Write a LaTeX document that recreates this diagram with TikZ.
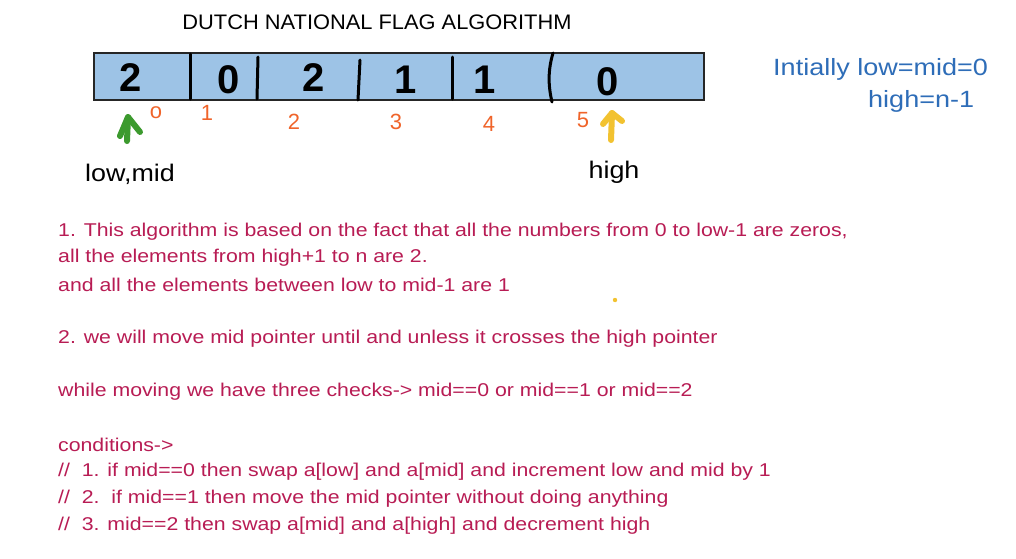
\documentclass[tikz,border=0pt]{standalone}
\usepackage{fontspec}
\setmainfont{Liberation Sans}
\newfontfamily\bodyfont[FakeStretch=1.15]{Liberation Sans}
\newfontfamily\notefont[FakeStretch=1.15]{Liberation Sans}
\newfontfamily\labelfont[FakeStretch=1.12]{Liberation Sans}
\newfontfamily\titlefont[FakeStretch=1.04]{Liberation Sans}
\usetikzlibrary{arrows.meta}
\definecolor{cellblue}{HTML}{9DC3E6}
\definecolor{idxorange}{HTML}{F0642A}
\definecolor{noteblue}{HTML}{2E6DB8}
\definecolor{bodyred}{HTML}{B81C54}
\definecolor{ptrgreen}{HTML}{3C9A2E}
\definecolor{ptryellow}{HTML}{F2C230}
\tikzset{
  digit/.style={font=\fontsize{40}{40}\selectfont\bfseries, inner sep=0pt},
  idx/.style={font=\fontsize{22}{22}\selectfont, text=idxorange, inner sep=0pt},
  ptrlabel/.style={font=\labelfont\fontsize{24}{24}\selectfont, inner sep=0pt},
  note/.style={font=\notefont\fontsize{23.5}{23.5}\selectfont, text=noteblue, inner sep=0pt, anchor=west},
  body/.style={font=\bodyfont\fontsize{18.5}{18.5}\selectfont, text=bodyred, inner sep=0pt, anchor=west},
  divider/.style={line width=3pt, black, line cap=round},
  ptr/.style={line width=6pt, line cap=round, line join=round},
}
\begin{document}
\begin{tikzpicture}[x=1pt,y=-1pt]
\useasboundingbox (0,0) rectangle (1016,558);
\fill[white] (0,0) rectangle (1016,558);

\node[font=\titlefont\fontsize{21}{21}\selectfont, inner sep=0pt] (title) at (377,22) {DUTCH NATIONAL FLAG ALGORITHM};

\node[draw=black!85, line width=2.5pt, fill=cellblue, minimum width=610pt, minimum height=47pt, inner sep=0pt] (arr) at (399,76.5) {};
\draw[divider] (190,54) -- (190,99);
\draw[divider] (258,57) -- (257,99);
\draw[divider] (360,60) -- (358,100);
\draw[divider] (452,57) -- (452,99);
\draw[divider] (553,53) .. controls (548,70) and (548,85) .. (552,102);

\node[digit] (d0) at (131,78) {2};
\node[digit] (d1) at (229,80) {0};
\node[digit] (d2) at (314,78) {2};
\node[digit] (d3) at (406,80) {1};
\node[digit] (d4) at (485,80) {1};
\node[digit] (d5) at (608,82) {0};

\node[idx] (i0) at (156,113) {o};
\node[idx] (i1) at (207,113) {1};
\node[idx] (i2) at (294,122) {2};
\node[idx] (i3) at (396,122) {3};
\node[idx] (i4) at (489,124) {4};
\node[idx] (i5) at (583,120) {5};

% low/mid pointer (green)
\coordinate (lowtail) at (127,141);
\coordinate (lowhead) at (128,117);
\coordinate (lowarmL) at (120,136);
\coordinate (lowarmR) at (140,132);
\draw[ptr, ptrgreen] (lowtail) -- (lowhead);
\draw[ptr, ptrgreen] (lowarmL) -- (lowhead) -- (lowarmR);
% high pointer (yellow)
\coordinate (hightail) at (611,140);
\coordinate (highhead) at (612,113);
\coordinate (higharmL) at (603,124);
\coordinate (higharmR) at (622,121);
\draw[ptr, ptryellow] (hightail) -- (highhead);
\draw[ptr, ptryellow] (higharmL) -- (highhead) -- (higharmR);

\node[ptrlabel] (lowmid) at (130,174) {low,mid};
\node[ptrlabel] (high) at (614,172) {high};

\node[note] (init1) at (773,69) {Intially low=mid=0};
\node[note] (init2) at (868,101) {high=n-1};

\fill[ptryellow] (615,300) circle (2.2pt);

\node[body] (l1) at (58,232) {1. This algorithm is based on the fact that all the numbers from 0 to low-1 are zeros,};
\node[body] (l2) at (58,258) {all the elements from high+1 to n are 2.};
\node[body] (l3) at (58,285) {and all the elements between low to mid-1 are 1};
\node[body] (l4) at (58,339) {2. we will move mid pointer until and unless it crosses the high pointer};
\node[body] (l5) at (58,392) {while moving we have three checks-> mid==0 or mid==1 or mid==2};
\node[body] (l6) at (58,445) {conditions->};
\node[body] (l7) at (58,472) {//\ \ 1. if mid==0 then swap a[low] and a[mid] and increment low and mid by 1};
\node[body] (l8) at (58,499) {//\ \ 2.\ \ if mid==1 then move the mid pointer without doing anything};
\node[body] (l9) at (58,526) {//\ \ 3. mid==2 then swap a[mid] and a[high] and decrement high};
\end{tikzpicture}
\end{document}
